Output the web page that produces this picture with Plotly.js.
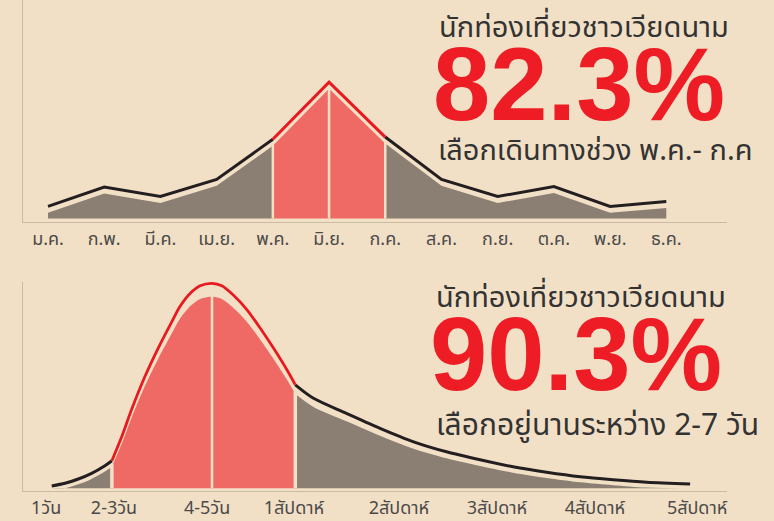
<!DOCTYPE html>
<html>
<head>
<meta charset="utf-8">
<script src="https://cdn.plot.ly/plotly-3.0.1.min.js"></script>
<style>
  html, body { margin: 0; padding: 0; background: #F2E0C6; }
  #chart { width: 774px; height: 521px; }
</style>
</head>
<body>
<div id="chart"></div>
<script>
// ---------- DATA ----------
// Top chart: share of Vietnamese travellers by month of travel
const months = ['ม.ค.','ก.พ.','มี.ค.','เม.ย.','พ.ค.','มิ.ย.','ก.ค.','ส.ค.','ก.ย.','ต.ค.','พ.ย.','ธ.ค.'];
const monthShare = [2.7, 7.0, 4.9, 8.7, 17.6, 30.3, 18.1, 8.7, 4.9, 7.1, 2.7, 3.8];
const monthHighlight = ['พ.ค.', 'มิ.ย.', 'ก.ค.'];

// Bottom chart: distribution of length of stay (curve)
const stayPos = [0.41, 0.60, 0.79, 0.98, 1.17, 1.27, 1.41, 1.55, 1.74, 1.93, 2.14, 2.24, 2.39, 2.53, 2.70,
                 2.84, 3.00, 3.20, 3.39, 3.58, 3.77, 3.89, 4.15, 4.62, 5.10, 5.58, 6.05, 6.53, 7.00, 7.48,
                 7.96, 8.43, 8.91, 9.53];
const stayShare = [0.46, 1.0, 1.86, 3.0, 4.52, 5.52, 10.3, 15.7, 22.3, 28.0, 33.7, 36.3, 39.0, 40.5, 41.0,
                   40.5, 38.7, 35.7, 32.0, 28.0, 23.7, 20.7, 18.0, 15.0, 12.0, 9.3, 7.3, 5.7, 4.3, 3.2,
                   2.3, 1.7, 1.2, 0.86];
const stayHighlight = [1.27, 2.70, 3.89];   // 2-3 days .. 1 week, split at the peak
const stayTickPos = [0.33, 1.30, 2.63, 3.87, 5.37, 6.77, 8.17, 9.63];
const stayLabels = ['1วัน','2-3วัน','4-5วัน','1สัปดาห์','2สัปดาห์','3สัปดาห์','4สัปดาห์','5สัปดาห์'];

// Headline texts
const headTitle = 'นักท่องเที่ยวชาวเวียดนาม';
const topPct = '82.3%';
const topSub = 'เลือกเดินทางช่วง พ.ค.- ก.ค';
const botPct = '90.3%';
const botSub = 'เลือกอยู่นานระหว่าง 2-7 วัน';

// ---------- STYLE ----------
const BG = '#F2E0C6', GREY = '#8A7F72', RED_FILL = '#F06A65', RED_LINE = '#E8191F',
      INK = '#231F20', TEXT_RED = '#EE1D25', TEXT_DARK = '#333333', AXIS = '#CBBBA5';
const FONT = 'Noto Sans Thai, Loma, Garuda, Tlwg Typist, Noto Sans, sans-serif';
const NUMFONT = 'Liberation Sans, Arial, sans-serif';

// vertical gap between line and area (data units)
const topGap = 1.44;
const areaTop = monthShare.map(v => Math.max(0, v - topGap));
const areaBot = stayShare.map(v => Math.max(0, 0.96 * v - 1));

const traces = [];
function seg(arr, a, b) { return arr.slice(a, b + 1); }

// ----- top chart -----
const iA = months.indexOf(monthHighlight[0]);
const iM = months.indexOf(monthHighlight[1]);
const iB = months.indexOf(monthHighlight[2]);
function areaTrace(x, y, color, xa, ya, shape) {
  return { x, y, type: 'scatter', mode: 'lines', fill: 'tozeroy', fillcolor: color,
           line: { width: 0, shape: shape || 'linear', smoothing: 0.8 }, xaxis: xa, yaxis: ya,
           hoverinfo: 'skip', showlegend: false };
}
function lineTrace(x, y, color, w, xa, ya, shape) {
  return { x, y, type: 'scatter', mode: 'lines',
           line: { color, width: w, shape: shape || 'linear', smoothing: 0.8 }, xaxis: xa, yaxis: ya,
           hoverinfo: 'skip', showlegend: false };
}
traces.push(areaTrace(seg(months, 0, iA), seg(areaTop, 0, iA), GREY, 'x', 'y'));
traces.push(areaTrace(seg(months, iA, iM), seg(areaTop, iA, iM), RED_FILL, 'x', 'y'));
traces.push(areaTrace(seg(months, iM, iB), seg(areaTop, iM, iB), RED_FILL, 'x', 'y'));
traces.push(areaTrace(seg(months, iB, months.length - 1), seg(areaTop, iB, months.length - 1), GREY, 'x', 'y'));
[iA, iM, iB].forEach(i => traces.push(lineTrace([months[i], months[i]], [0, areaTop[i] + 0.3], BG, 2.5, 'x', 'y')));
traces.push(lineTrace(seg(months, 0, iA), seg(monthShare, 0, iA), INK, 3, 'x', 'y'));
traces.push(lineTrace(seg(months, iB, months.length - 1), seg(monthShare, iB, months.length - 1), INK, 3, 'x', 'y'));
traces.push(lineTrace(seg(months, iA, iB), seg(monthShare, iA, iB), RED_LINE, 3, 'x', 'y'));

// ----- bottom chart -----
const jA = stayPos.indexOf(stayHighlight[0]);
const jM = stayPos.indexOf(stayHighlight[1]);
const jB = stayPos.indexOf(stayHighlight[2]);
const nS = stayPos.length - 1;
traces.push(areaTrace(seg(stayPos, 0, jA), seg(areaBot, 0, jA), GREY, 'x2', 'y2', 'spline'));
traces.push(areaTrace(seg(stayPos, jA, jM), seg(areaBot, jA, jM), RED_FILL, 'x2', 'y2', 'spline'));
traces.push(areaTrace(seg(stayPos, jM, jB), seg(areaBot, jM, jB), RED_FILL, 'x2', 'y2', 'spline'));
traces.push(areaTrace(seg(stayPos, jB, nS), seg(areaBot, jB, nS), GREY, 'x2', 'y2', 'spline'));
traces.push(lineTrace([stayPos[jA], stayPos[jA]], [0, areaBot[jA] + 0.5], BG, 3.5, 'x2', 'y2'));
traces.push(lineTrace([stayPos[jM], stayPos[jM]], [0, areaBot[jM] + 0.5], BG, 2.5, 'x2', 'y2'));
traces.push(lineTrace([stayPos[jB], stayPos[jB]], [0, areaBot[jB] + 0.5], BG, 3.5, 'x2', 'y2'));
traces.push(lineTrace(seg(stayPos, 0, jA), seg(stayShare, 0, jA), INK, 3, 'x2', 'y2', 'spline'));
traces.push(lineTrace(seg(stayPos, jB, nS), seg(stayShare, jB, nS), INK, 3, 'x2', 'y2', 'spline'));
traces.push(lineTrace(seg(stayPos, jA, jB), seg(stayShare, jA, jB), RED_LINE, 2.8, 'x2', 'y2', 'spline'));

// ---------- LAYOUT ----------
const W = 774, H = 521;
const px = v => v / W, py = v => 1 - v / H;
function ann(text, xPix, yPix, size, color, bold) {
  return { text: bold ? '<b>' + text + '</b>' : text, xref: 'paper', yref: 'paper',
           x: px(xPix), y: py(yPix), xanchor: 'left', yanchor: 'middle', showarrow: false,
           font: { family: bold ? NUMFONT : FONT, size, color } };
}
const axisCommon = { showgrid: false, zeroline: false, showline: true, linecolor: AXIS, linewidth: 1,
                     ticks: '', fixedrange: true };
const tickFont = { size: 18, color: '#4a4a4a', family: FONT };
const layout = {
  width: W, height: H,
  margin: { l: 0, r: 0, t: 0, b: 0 },
  paper_bgcolor: BG, plot_bgcolor: BG,
  showlegend: false,
  font: { family: FONT, color: '#4a4a4a' },
  xaxis: Object.assign({}, axisCommon, { type: 'category', domain: [px(23), px(727)], anchor: 'y',
          range: [-0.445, 12.08], tickfont: tickFont }),
  yaxis: Object.assign({}, axisCommon, { domain: [py(222.3), 1], anchor: 'x', range: [-0.84, 48.56],
          showticklabels: false }),
  xaxis2: Object.assign({}, axisCommon, { domain: [px(23), px(727)], anchor: 'y2', range: [0, 10.057],
          tickmode: 'array', tickvals: stayTickPos, ticktext: stayLabels, tickfont: tickFont }),
  yaxis2: Object.assign({}, axisCommon, { domain: [py(491), py(281.7)], anchor: 'x2', range: [-0.54, 41.32],
          showticklabels: false }),
  annotations: [
    ann(headTitle, 437, 28, 29, TEXT_DARK, false),
    ann(topPct, 431, 84, 103, TEXT_RED, true),
    ann(topSub, 436, 151, 29, TEXT_DARK, false),
    ann(headTitle, 434, 298, 29, TEXT_DARK, false),
    ann(botPct, 428, 354, 103, TEXT_RED, true),
    ann(botSub, 434, 426, 30, TEXT_DARK, false)
  ]
};

Plotly.newPlot('chart', traces, layout, { staticPlot: true, displayModeBar: false });
</script>
</body>
</html>
